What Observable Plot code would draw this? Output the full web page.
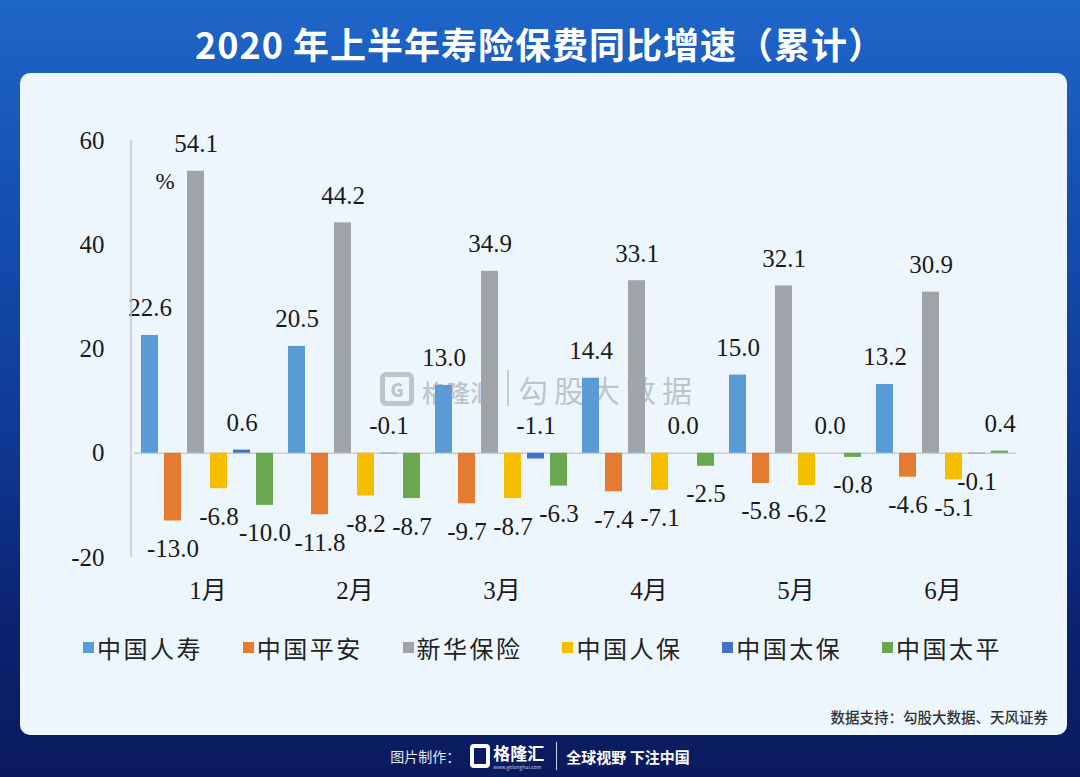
<!DOCTYPE html>
<html><head><meta charset="utf-8">
<script src="https://cdn.jsdelivr.net/npm/d3@7"></script>
<script src="https://cdn.jsdelivr.net/npm/@observablehq/plot@0.6"></script>
<style>
html,body{margin:0;padding:0;}
body{width:1080px;height:777px;overflow:hidden;}
#page{position:relative;width:1080px;height:777px;background:linear-gradient(180deg,#1f66c9 0%,#1550b2 25%,#0f3a95 55%,#0b2370 80%,#0a1a5e 100%);font-family:"Noto Sans CJK SC",sans-serif;overflow:hidden;}
#title{position:absolute;left:0;top:20px;width:1080px;text-align:center;color:#fff;font-size:36px;font-weight:700;line-height:46px;letter-spacing:1px;}
#card{position:absolute;left:20px;top:73px;width:1047px;height:662px;background:#eef6fd;border-radius:10px;}
.wm{position:absolute;color:rgba(140,146,156,0.5);white-space:nowrap;}
#wmg{left:380px;top:372px;width:34px;height:34px;border:5px solid rgba(140,146,156,0.5);border-radius:6px;box-sizing:border-box;font-size:18px;line-height:24px;font-weight:900;text-align:center;}
#wmn{left:422px;top:380px;font-size:24px;line-height:24px;font-weight:500;}
#wms{left:507px;top:370px;width:2px;height:36px;background:rgba(140,146,156,0.4);}
#wmt{left:518px;top:374px;font-size:30px;line-height:30px;letter-spacing:6px;font-weight:400;}
#chart{position:absolute;left:0;top:100px;}
#legend{position:absolute;left:0;top:633px;width:1080px;height:28px;}
.li{position:absolute;top:0;display:flex;align-items:center;height:28px;}
.sw{width:11px;height:11px;margin-right:3px;}
.lt{font-size:24px;letter-spacing:2.5px;color:#222;font-family:"Noto Sans CJK SC",sans-serif;font-weight:400;}
#source{position:absolute;right:32px;top:706px;font-size:14.5px;color:#333;font-weight:500;}
#footer{position:absolute;left:0;top:741px;width:1080px;height:30px;display:flex;justify-content:center;align-items:center;color:#fff;}
#footer .a{font-size:14px;color:#e6e9f5;margin-right:10px;}
#footer .lg{display:flex;align-items:center;}
#footer .lg .g{width:20px;height:24px;border:4px solid #fff;border-radius:4px;box-sizing:border-box;margin-right:3px;}
#footer .lg .n{font-size:17px;font-weight:700;line-height:19px;height:19px;}
#footer .lg .u{font-size:5px;line-height:6px;height:6px;margin-top:2px;color:#ccd;}
#footer .sep{width:1px;height:28px;background:#cfd5ea;margin:0 9px 0 12px;}
#footer .b{font-size:15px;font-weight:700;}
</style></head>
<body>
<div id="page">
  <div id="title">2020 年上半年寿险保费同比增速（累计）</div>
  <div id="card"></div>
  <div class="wm" id="wmg">G</div>
  <div class="wm" id="wmn">格隆汇</div>
  <div class="wm" id="wms"></div>
  <div class="wm" id="wmt">勾股大数据</div>
  <div id="chart"></div>
  <div id="legend"></div>
  <div id="source">数据支持：勾股大数据、天风证券</div>
  <div id="footer"><span class="a">图片制作：</span><div class="lg"><div class="g"></div><div><div class="n">格隆汇</div><div class="u">www.gelonghui.com</div></div></div><div class="sep"></div><span class="b">全球视野 下注中国</span></div>
</div>
<script>
const months = ["1月","2月","3月","4月","5月","6月"];
const companies = ["中国人寿","中国平安","新华保险","中国人保","中国太保","中国太平"];
const colors = ["#5b9bd5","#e57b30","#a0a4a8","#f5bf00","#4472c4","#6aa84f"];
const chinaLife = [22.6, 20.5, 13.0, 14.4, 15.0, 13.2];
const pingAn    = [-13.0, -11.8, -9.7, -7.4, -5.8, -4.6];
const xinhua    = [54.1, 44.2, 34.9, 33.1, 32.1, 30.9];
const picc      = [-6.8, -8.2, -8.7, -7.1, -6.2, -5.1];
const cpic      = [0.6, -0.1, -1.1, 0.0, 0.0, -0.1];
const taiping   = [-10.0, -8.7, -6.3, -2.5, -0.8, 0.4];
const yTicks = [-20, 0, 20, 40, 60];
const yDomain = [-20, 60];
const unitLabel = "%";

const series = [chinaLife, pingAn, xinhua, picc, cpic, taiping];
const rows = [];
months.forEach((m, i) => {
  companies.forEach((c, j) => {
    rows.push({month: m, company: c, value: series[j][i], idx: i});
  });
});
// 中国太保 labels sit above the axis unless the neighbouring 中国太平 bar is positive
const isAbove = d => d.value >= 0 || (d.company === "中国太保" && taiping[d.idx] < 0);
const above = rows.filter(isAbove);
const below = rows.filter(d => !isAbove(d));

const serif = "'Liberation Serif','Noto Sans CJK SC',serif";
const plot = Plot.plot({
  width: 1080, height: 520,
  marginLeft: 131, marginRight: 62, marginTop: 40, marginBottom: 63,
  style: {background: "transparent", fontFamily: serif, fontSize: "25px", color: "#1a1a1a", overflow: "visible"},
  fx: {domain: months, padding: 0, label: null},
  x: {domain: companies, paddingInner: 0.244, paddingOuter: 0.3, axis: null},
  y: {domain: yDomain, label: null},
  color: {domain: companies, range: colors},
  marks: [
    Plot.axisY({ticks: yTicks, tickSize: 0, tickPadding: 30, fontSize: 25, label: null, fill: "#1a1a1a", tickFormat: d => String(d)}),
    Plot.axisFx({anchor: "bottom", tickSize: 0, tickPadding: 24, fontSize: 25, label: null, fill: "#1a1a1a"}),
    Plot.ruleY([0], {stroke: "#c9cdd3", strokeWidth: 1.5}),
    Plot.barY(rows, {fx: "month", x: "company", y: "value", fill: "company"}),
    Plot.text(above, {fx: "month", x: "company", y: d => Math.max(d.value, 0), text: d => d.value.toFixed(1), dy: -27, fontSize: 25, fill: "#1a1a1a"}),
    Plot.text(below, {fx: "month", x: "company", y: "value", text: d => d.value.toFixed(1), dy: 28, fontSize: 25, fill: "#1a1a1a"}),
    Plot.text([{month: months[0]}], {fx: "month", text: () => unitLabel, frameAnchor: "top-left", dx: 21, dy: 32, fontSize: 23, fill: "#1a1a1a"})
  ]
});
document.getElementById("chart").appendChild(plot);
// y axis line along the left edge of the frame
const ys = plot.scale("y");
d3.select(plot).append("line")
  .attr("x1", 131).attr("x2", 131)
  .attr("y1", ys.apply(yDomain[1])).attr("y2", ys.apply(yDomain[0]))
  .attr("stroke", "#c4c8ce").attr("stroke-width", 1.5);

const legend = document.getElementById("legend");
companies.forEach((c, i) => {
  const it = document.createElement("div");
  it.className = "li";
  it.style.left = (83 + i * 159.8) + "px";
  it.innerHTML = `<div class="sw" style="background:${colors[i]}"></div><span class="lt">${c}</span>`;
  legend.appendChild(it);
});
</script>
</body></html>
